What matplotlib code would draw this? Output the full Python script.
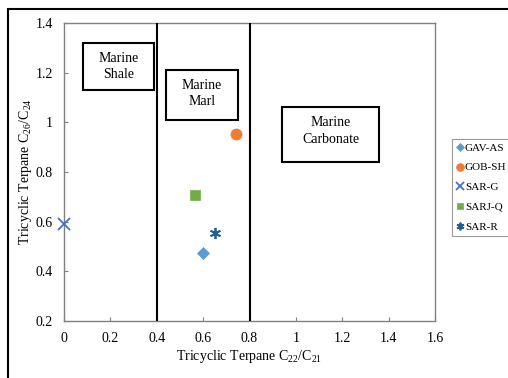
import matplotlib
matplotlib.use("Agg")
import matplotlib.pyplot as plt
from matplotlib.patches import Rectangle

plt.rcParams['font.family'] = ['Liberation Serif', 'DejaVu Serif']
plt.rcParams['mathtext.fontset'] = 'custom'
plt.rcParams['mathtext.rm'] = 'Liberation Serif'

# sample values
samples = ["GAV-AS", "GOB-SH", "SAR-G", "SARJ-Q", "SAR-R"]
c22_c21 = [0.60, 0.74, 0.0, 0.565, 0.65]
c26_c24 = [0.475, 0.955, 0.59, 0.707, 0.555]
colors = ["#5B9BD5", "#ED7D31", "#4472C4", "#70AD47", "#255E91"]
markers = ["D", "o", "x", "s", (6, 2, 0)]
sizes = [6, 8, 8, 7, 8]

# facies boundaries and labels
boundaries = [0.4, 0.8]
facies = ["Marine\nShale", "Marine\nMarl", "Marine\nCarbonate"]

fig = plt.figure(figsize=(5.08, 3.78), dpi=100)
W, H = 508, 378

# outer chart border (cut off at right and bottom)
fig.patches.append(Rectangle((8 / W, -0.1), 1.2, 1 - 9 / H + 0.1, transform=fig.transFigure,
                             fill=False, edgecolor='black', linewidth=1.5))

ax = fig.add_axes([64 / W, 1 - 321 / H, (435 - 64) / W, (321 - 23) / H])

for name, x, y, c, m, s in zip(samples, c22_c21, c26_c24, colors, markers, sizes):
    mew = 1.3 if m in ("x", (6, 2, 0)) else 0.5
    ax.plot([x], [y], linestyle='none', marker=m, color=c, markersize=s,
            markeredgewidth=mew, label=name, clip_on=False, zorder=5)

for b in boundaries:
    ax.axvline(b, color='black', linewidth=1.5, zorder=3)

ax.set_xlim(0, 1.6)
ax.set_ylim(0.2, 1.4)
ax.set_xticks([0, 0.2, 0.4, 0.6, 0.8, 1.0, 1.2, 1.4, 1.6])
ax.set_xticklabels(["0", "0.2", "0.4", "0.6", "0.8", "1", "1.2", "1.4", "1.6"])
ax.set_yticks([0.2, 0.4, 0.6, 0.8, 1.0, 1.2, 1.4])
ax.set_yticklabels(["0.2", "0.4", "0.6", "0.8", "1", "1.2", "1.4"])
ax.tick_params(direction='in', length=3, color='#808080', labelsize=10, pad=8)
for sp in ax.spines.values():
    sp.set_color('#808080')
    sp.set_linewidth(1)

ax.set_xlabel(r"Tricyclic Terpane C$\mathregular{_{22}}$/C$\mathregular{_{21}}$", fontsize=10, labelpad=2)
ax.set_ylabel(r"Tricyclic Terpane C$\mathregular{_{26}}$/C$\mathregular{_{24}}$", fontsize=10, labelpad=1)

# facies text boxes (data coordinates)
box_pos = [(0.08, 1.32, 1.13), (0.44, 1.21, 1.01), (0.94, 1.06, 0.84)]
box_w = [0.31, 0.31, 0.42]
for (x0, ytop, ybot), w, txt in zip(box_pos, box_w, facies):
    ax.add_patch(Rectangle((x0, ybot), w, ytop - ybot, fill=True, facecolor='white',
                           edgecolor='black', linewidth=1.5, zorder=4))
    ax.text(x0 + w / 2, ytop - 0.035, txt, ha='center', va='top', fontsize=10,
            linespacing=1.35, zorder=6)

leg = ax.legend(loc='upper left', bbox_to_anchor=(452 / W, 1 - 139 / H), bbox_transform=fig.transFigure,
                frameon=True, fancybox=False, fontsize=8, handletextpad=0.0, handlelength=0.8,
                borderpad=0.35, labelspacing=0.9, borderaxespad=0, markerscale=0.7)
leg.get_frame().set_edgecolor('#808080')
leg.get_frame().set_linewidth(0.8)

fig.savefig("out.png", dpi=100)
